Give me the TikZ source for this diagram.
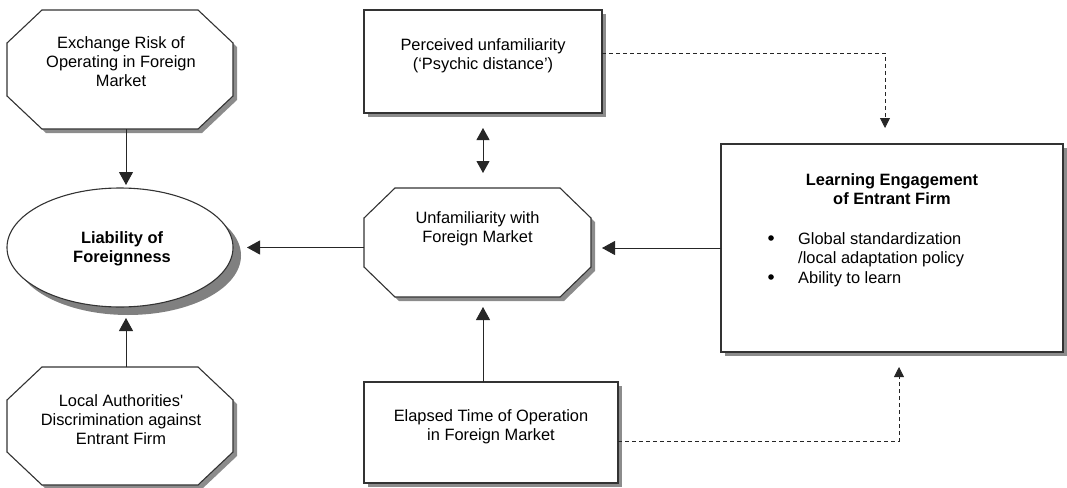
\documentclass[tikz,border=0pt]{standalone}
\usepackage{fontspec}
\setmainfont{Liberation Sans}
\usetikzlibrary{shadows,arrows.meta,calc}
\begin{document}
\begin{tikzpicture}[x=1pt,y=-1pt,
  shp/.style={draw=black!80, line width=1.1pt, fill=white,
    drop shadow={shadow xshift=4pt, shadow yshift=-4pt, fill=black!45, opacity=1}},
  anchorbox/.style={inner sep=0pt, outer sep=0pt},
  txt/.style={align=center, font=\fontsize{16.4}{19}\selectfont, inner sep=0pt},
  btxt/.style={txt, font=\fontsize{16.4}{19}\selectfont\bfseries},
  arr/.style={-{Triangle[length=13pt,width=14pt]}, line width=1pt, draw=black!85},
  dbl/.style={{Triangle[length=12pt,width=13pt]}-{Triangle[length=12pt,width=13pt]}, line width=1pt, draw=black!85},
  darr/.style={-{Triangle[length=10pt,width=10pt]}, line width=0.8pt, draw=black!85, dash pattern=on 4pt off 3pt}
]
\useasboundingbox (0,0) rectangle (1067,487);

% Exchange risk octagon
\node[anchorbox, minimum width=226pt, minimum height=119pt] (ex) at (120,69.5) {};
\draw[shp] (42,10) -- (198,10) -- (233,43) -- (233,96) -- (198,129) -- (42,129) -- (7,96) -- (7,43) -- cycle;
\node[txt] (ext) at (121,62) {Exchange Risk of\\Operating in Foreign\\Market};

% Local authorities octagon
\node[anchorbox, minimum width=226pt, minimum height=118pt] (loc) at (120,426) {};
\draw[shp] (42,367) -- (198,367) -- (233,400) -- (233,452) -- (198,485) -- (42,485) -- (7,452) -- (7,400) -- cycle;
\node[txt] (loct) at (121,420) {Local Authorities\textquotesingle\\Discrimination against\\Entrant Firm};

% Liability ellipse
\fill[black!50] (128,255.5) ellipse [x radius=113, y radius=59.5];
\draw[draw=black!80, line width=1.1pt, fill=white] (120,247.5) ellipse [x radius=113, y radius=59.5];
\node[anchorbox, minimum width=226pt, minimum height=119pt] (ell) at (120,247.5) {};
\node[btxt] (ellt) at (122,249) {Liability of\\Foreignness};

% Unfamiliarity octagon
\node[anchorbox, minimum width=227pt, minimum height=109pt] (unf) at (477.5,242.5) {};
\draw[shp] (395,188) -- (560,188) -- (591,218) -- (591,267) -- (560,297) -- (395,297) -- (364,267) -- (364,218) -- cycle;
\node[txt] (unft) at (477.5,228.5) {Unfamiliarity with\\Foreign Market};

% Perceived box
\node[shp, anchorbox, minimum width=238pt, minimum height=103pt] (perc) at (483,61.5) {};
\node[txt] (perct) at (483,56) {Perceived unfamiliarity\\(`Psychic distance')};

% Elapsed box
\node[shp, anchorbox, minimum width=254pt, minimum height=101pt] (ela) at (491,432.5) {};
\node[txt] (elat) at (491,427) {Elapsed Time of Operation\\in Foreign Market};

% Learning box
\node[shp, anchorbox, minimum width=342pt, minimum height=208pt] (learn) at (892,248) {};
\node[btxt] (learnt) at (892,189.5) {Learning Engagement\\of Entrant Firm};
\fill (771,238) circle [radius=2.8pt];
\fill (771,277) circle [radius=2.8pt];
\node[txt, align=left, anchor=base west] (l1) at (798,244) {Global standardization};
\node[txt, align=left, anchor=base west] (l2) at (798,263) {/local adaptation policy};
\node[txt, align=left, anchor=base west] (l3) at (798,283) {Ability to learn};

% connectors
\draw[arr, shorten >=3pt] ([xshift=6pt]ex.south) -- ([xshift=6pt]ell.north);
\draw[arr, shorten >=11pt] ([xshift=6pt]loc.north) -- ([xshift=6pt]ell.south);
\draw[arr, shorten >=14pt] (unf.west |- ell.east) -- (ell.east);
\draw[arr, shorten >=11pt] (learn.west) -- (learn.west -| unf.east);
\draw[arr, shorten >=10pt] (ela.north -| perc.south) -- (unf.south -| perc.south);
\draw[dbl, shorten <=15pt, shorten >=15pt] (perc.south) -- (unf.north -| perc.south);

\coordinate (lt) at (885,144);
\coordinate (lb) at (899,352);
\draw[darr, shorten >=16pt] ([yshift=8.5pt]perc.east) -| (lt);
\draw[darr, shorten >=15pt] ([yshift=-8.5pt]ela.east) -| (lb);
\end{tikzpicture}
\end{document}
